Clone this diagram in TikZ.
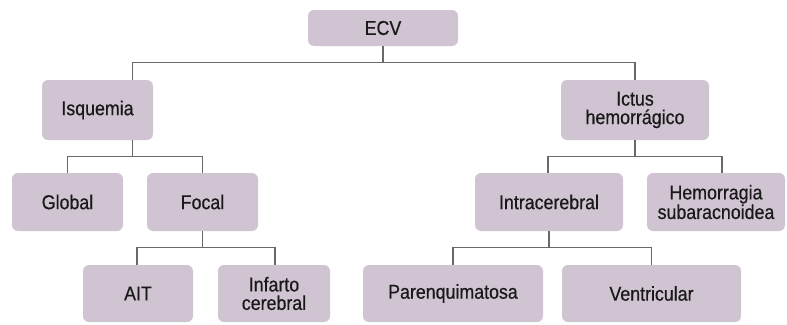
\documentclass[tikz,border=0pt]{standalone}
\usepackage{fontspec}
\setmainfont{Liberation Sans}[FakeStretch=0.89,FakeBold=0.5]
\definecolor{boxfill}{RGB}{208,196,210}
\definecolor{linegray}{RGB}{105,105,105}
\tikzset{
  clsbox/.style={fill=boxfill, rounded corners=6pt, inner sep=0pt, align=center,
    text=black!90, font=\fontsize{20}{18.5}\selectfont},
  link/.style={draw=linegray, line width=1.1pt}
}
\begin{document}
\begin{tikzpicture}[x=1pt,y=-1pt]
    \useasboundingbox (0,0) rectangle (787,324);
    % levels of the classification
    \node[clsbox, minimum width=150pt, minimum height=36pt] (ecv) at (383,28) {ECV};
    \node[clsbox, minimum width=111pt, minimum height=60pt] (isq) at (97.5,110) {Isquemia};
    \node[clsbox, minimum width=148pt, minimum height=60pt] (ictus) at (635,110) {Ictus\\hemorrágico};
    \node[clsbox, minimum width=111pt, minimum height=58pt] (global) at (67.5,202) {Global};
    \node[clsbox, minimum width=111pt, minimum height=58pt] (focal) at (202.5,202) {Focal};
    \node[clsbox, minimum width=148pt, minimum height=58pt] (intra) at (549,202) {Intracerebral};
    \node[clsbox, minimum width=138pt, minimum height=58pt] (hsa) at (716,202) {Hemorragia\\subaracnoidea};
    \node[clsbox, minimum width=110pt, minimum height=57pt] (ait) at (138,293.5) {AIT};
    \node[clsbox, minimum width=112pt, minimum height=57pt] (infarto) at (274,293.5) {Infarto\\cerebral};
    \node[clsbox, minimum width=180pt, minimum height=57pt] (parenq) at (453,293.5) {Parenquimatosa};
    \node[clsbox, minimum width=179pt, minimum height=57pt] (ventr) at (651.5,293.5) {Ventricular};
    \coordinate (isqtop) at ([xshift=35pt]isq.north);
    \coordinate (isqbot) at ([xshift=35pt]isq.south);
    % connectors
    \draw[link] (ecv.south) -- ++(0,16) coordinate (e1);
    \draw[link] (isqtop) |- (e1) -| (ictus.north);
    \draw[link] (isqbot) -- ++(0,16) coordinate (i1);
    \draw[link] (global.north) |- (i1) -| (focal.north);
    \draw[link] (ictus.south) -- ++(0,16) coordinate (h1);
    \draw[link] ([xshift=-1pt]intra.north) |- (h1) -| ([xshift=6pt]hsa.north);
    \draw[link] (focal.south) -- ++(0,16) coordinate (f1);
    \draw[link] ([xshift=-1pt]ait.north) |- (f1) -| ([xshift=1pt]infarto.north);
    \draw[link] (intra.south) -- ++(0,16) coordinate (n1);
    \draw[link] (parenq.north) |- (n1) -| (ventr.north);
\end{tikzpicture}
\end{document}
